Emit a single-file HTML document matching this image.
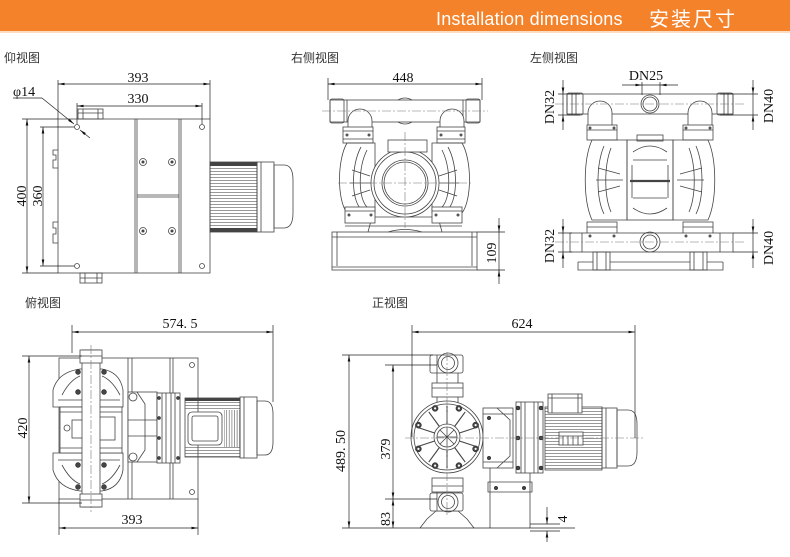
<!DOCTYPE html>
<html><head><meta charset="utf-8"><style>
html,body{margin:0;padding:0;background:#fff;width:790px;height:557px;overflow:hidden}
svg{display:block}
.l{fill:none;stroke:#444;stroke-width:.8}
.w{fill:#fff;stroke:#444;stroke-width:.8}
.t{stroke:#222;stroke-width:.7;fill:none}
.d{font-family:"Liberation Serif",serif;font-size:14px;fill:#111}
.lab{font-family:"Liberation Sans","Noto Sans CJK SC",sans-serif;font-size:12px;fill:#333}
.c{stroke:#777;stroke-width:.6;stroke-dasharray:9 2 2 2;fill:none}
.b{fill:#444;stroke:#222;stroke-width:.5}
</style></head><body>
<svg width="790" height="557" viewBox="0 0 790 557" xmlns="http://www.w3.org/2000/svg">
<defs>
<marker id="ar" viewBox="0 0 10 4" refX="10" refY="2" markerWidth="7" markerHeight="2.6" orient="auto-start-reverse" markerUnits="userSpaceOnUse"><path d="M0,0L10,2L0,4z" fill="#111"/></marker>
<pattern id="hf" width="6" height="3" patternUnits="userSpaceOnUse"><line x1="0" y1="0.5" x2="6" y2="0.5" stroke="#555" stroke-width="0.6"/></pattern>
<pattern id="vf" width="2.6" height="6" patternUnits="userSpaceOnUse"><line x1="0.5" y1="0" x2="0.5" y2="6" stroke="#555" stroke-width="0.6"/></pattern>
</defs>

<!-- header -->
<rect x="0" y="0" width="790" height="31" fill="#F4822A"/>
<rect x="0" y="31" width="790" height="2" fill="#FBDCC0"/>
<text x="436" y="25" font-family="Liberation Sans, sans-serif" font-size="18" fill="#fff" letter-spacing="0.2">Installation dimensions</text>
<text x="649" y="26" font-family="Liberation Sans, 'Noto Sans CJK SC', sans-serif" font-size="20" fill="#fff" letter-spacing="2">安装尺寸</text>

<!-- labels -->
<text x="4" y="62" class="lab">仰视图</text>
<text x="291" y="62" class="lab">右侧视图</text>
<text x="530" y="62" class="lab">左侧视图</text>
<text x="25" y="307" class="lab">俯视图</text>
<text x="372" y="307" class="lab">正视图</text>

<!-- ============ VIEW 1 仰视图 ============ -->
<g class="l">
<rect x="58" y="119" width="152" height="154"/>
<path d="M135,119V273M137,119V273M179,119V273M181,119V273M137,195H179M137,197H179"/>
<rect x="78" y="109" width="25" height="10"/><path d="M83,109V119M98,109V119M78,113H103"/>
<rect x="80" y="273" width="22" height="10"/><path d="M85,273V283M97,273V283M80,278H102"/>
<circle cx="77" cy="127" r="2.5"/><circle cx="202" cy="127" r="2.5"/><circle cx="77" cy="266" r="2.5"/><circle cx="202" cy="266" r="2.5"/>
<path d="M58,150h-5v5h3v5h-3v8h5 M58,222h-5v6h3v6h-3v9h5"/>
</g>
<g>
<circle cx="143" cy="162" r="3.5" class="l"/><circle cx="143" cy="162" r="1.5" fill="#444"/>
<circle cx="172" cy="162" r="3.5" class="l"/><circle cx="172" cy="162" r="1.5" fill="#444"/>
<circle cx="143" cy="231" r="3.5" class="l"/><circle cx="143" cy="231" r="1.5" fill="#444"/>
<circle cx="172" cy="231" r="3.5" class="l"/><circle cx="172" cy="231" r="1.5" fill="#444"/>
</g>
<!-- motor v1 -->
<rect x="210" y="162" width="47" height="70" fill="url(#hf)" stroke="#444" stroke-width=".8"/>
<rect x="210" y="162" width="47" height="4" fill="#444"/>
<rect x="210" y="228" width="47" height="4" fill="#444"/>
<rect x="257" y="162" width="17" height="70" class="l"/>
<path d="M261,162V232" class="l"/>
<path d="M274,165H284Q293,165 293,180V213Q293,228 284,228H274Z" class="l"/>
<!-- dims v1 -->
<g class="t">
<path d="M58,80V119M210,80V119"/>
<line x1="58" y1="84" x2="210" y2="84" marker-start="url(#ar)" marker-end="url(#ar)"/>
<path d="M77,103V124M202,103V124"/>
<line x1="77" y1="106" x2="202" y2="106" marker-start="url(#ar)" marker-end="url(#ar)"/>
<path d="M22,119H58M22,273H58"/>
<line x1="27" y1="119" x2="27" y2="273" marker-start="url(#ar)" marker-end="url(#ar)"/>
<path d="M40,127H74M40,266H74"/>
<line x1="43" y1="127" x2="43" y2="266" marker-start="url(#ar)" marker-end="url(#ar)"/>
<path d="M13,98H42"/>
<line x1="42" y1="98" x2="74" y2="124" marker-end="url(#ar)"/>
<line x1="90" y1="138" x2="80" y2="130" marker-end="url(#ar)"/>
</g>
<text x="138" y="82" class="d" text-anchor="middle">393</text>
<text x="138" y="103" class="d" text-anchor="middle">330</text>
<text x="13" y="96" class="d">φ14</text>
<text transform="translate(26,196) rotate(-90)" class="d" text-anchor="middle">400</text>
<text transform="translate(42,196) rotate(-90)" class="d" text-anchor="middle">360</text>

<!-- ============ VIEW 2 右侧视图 ============ -->
<g class="l">
<rect x="330" y="100" width="150" height="22"/>
<rect x="330" y="99" width="14" height="24" rx="2"/><rect x="466" y="99" width="14" height="24" rx="2"/>
<path d="M347,100V122M463,100V122"/>
<path d="M398,100q7,-4 14,0M398,122q7,4 14,0"/>
<path d="M348,133V121A12,12 0 0 1 372,121V133M440,133V121A12,12 0 0 1 464,121V133" class="w"/>
<rect x="343" y="127" width="30" height="16" class="w"/><rect x="437" y="127" width="28" height="16" class="w"/>
<path d="M343,131H373M437,131H465M343,139H373M437,139H465"/>
<path d="M347,143C337,160 337,200 347,213H375V143Z M462,143C472,160 472,200 462,213H432V143Z"/>
<path d="M361,147C351,165 351,200 361,209M367,150C358,168 358,198 367,207M448,147C458,165 458,200 448,209M442,150C451,168 451,198 442,207"/>
<path d="M350,183H372M437,183H459M352,170L370,176M352,196L370,190M457,170L439,176M457,196L439,190"/>
<path d="M368,232L372,217H438L442,232"/>
<circle cx="405" cy="183" r="34" class="w"/><circle cx="405" cy="183" r="31"/><circle cx="405" cy="183" r="23"/><circle cx="405" cy="183" r="21"/>
<rect x="388" y="140" width="39" height="12" class="w"/>
<rect x="345" y="207" width="30" height="16" class="w"/><rect x="432" y="207" width="30" height="16" class="w"/>
<path d="M345,211H375M432,211H462M345,226H462"/>
<rect x="332" y="232" width="145" height="38"/>
<path d="M332,237H477M337,232V266M472,232V266M332,267H477M388,232q17,-5 34,0"/>
</g>
<g fill="#555">
<circle cx="347" cy="135" r="1.5"/><circle cx="369" cy="135" r="1.5"/><circle cx="441" cy="135" r="1.5"/><circle cx="461" cy="135" r="1.5"/>
<circle cx="349" cy="215" r="1.5"/><circle cx="371" cy="215" r="1.5"/><circle cx="436" cy="215" r="1.5"/><circle cx="458" cy="215" r="1.5"/>
</g>
<path class="c" d="M322,111H488M405,132V228M338,183H472"/>
<g class="t">
<path d="M328,78V100M482,78V100"/>
<line x1="328" y1="84" x2="482" y2="84" marker-start="url(#ar)" marker-end="url(#ar)"/>
<path d="M477,232H505M477,270H505"/>
<line x1="499" y1="218" x2="499" y2="232" marker-end="url(#ar)"/>
<line x1="499" y1="284" x2="499" y2="270" marker-end="url(#ar)"/>
<path d="M499,232V270"/>
</g>
<text x="403" y="82" class="d" text-anchor="middle">448</text>
<text transform="translate(496,253) rotate(-90)" class="d" text-anchor="middle">109</text>

<!-- ============ VIEW 3 左侧视图 ============ -->
<g class="l">
<rect x="567" y="94" width="166" height="20"/>
<rect x="567" y="93" width="16" height="22" rx="2"/><path d="M572,93V115M576,93V115"/>
<rect x="717" y="93" width="16" height="22" rx="2"/><path d="M724,93V115M728,93V115"/>
<circle cx="650" cy="104" r="9"/><circle cx="650" cy="104" r="7"/>
<path d="M588,125V113A12,12 0 0 1 612,113V125M688,125V113A12,12 0 0 1 712,113V125" class="w"/>
<rect x="587" y="125" width="30" height="15" class="w"/><rect x="683" y="125" width="30" height="15" class="w"/>
<path d="M587,130H617M683,130H713"/>
<path d="M592,140C583,160 583,200 592,220H627V140Z M708,140C717,160 717,200 708,220H673V140Z"/>
<path d="M604,146C596,165 596,198 604,214M611,148C604,166 604,196 611,212M696,146C704,165 704,198 696,214M689,148C696,166 696,196 689,212"/>
<path d="M596,180H623M677,180H704M598,168L620,174M598,192L620,186M702,168L680,174M702,192L680,186"/>
<rect x="627" y="140" width="46" height="80"/>
<rect x="637" y="135" width="26" height="6"/>
<path d="M633,152Q650,140 667,152M633,208Q650,220 667,208M633,160H667M633,198H667"/>
<path d="M630,181H670" stroke-width="2.2"/>
<path d="M632,165V198M668,165V198"/>
<rect x="587" y="222" width="30" height="16" class="w"/><rect x="683" y="222" width="30" height="16" class="w"/>
<path d="M587,227H617M683,227H713"/>
<rect x="570" y="233" width="163" height="19" class="w"/>
<path d="M582,233V252M720,233V252"/>
<circle cx="650" cy="242" r="10"/><circle cx="650" cy="242" r="7"/>
<rect x="593" y="252" width="17" height="18"/><rect x="690" y="252" width="17" height="18"/>
<path d="M597,252V270M606,252V270M694,252V270M703,252V270"/>
<path d="M578,262V270H723V262M578,262H593M610,262H690M707,262H723"/>
</g>
<g fill="#555">
<circle cx="590" cy="128" r="1.5"/><circle cx="614" cy="128" r="1.5"/><circle cx="686" cy="128" r="1.5"/><circle cx="710" cy="128" r="1.5"/>
<circle cx="590" cy="236" r="1.5"/><circle cx="614" cy="236" r="1.5"/><circle cx="686" cy="236" r="1.5"/><circle cx="710" cy="236" r="1.5"/>
</g>
<path class="c" d="M555,104H745M555,242H745"/>
<g class="t">
<line x1="622" y1="85" x2="642" y2="85" marker-end="url(#ar)"/>
<line x1="678" y1="85" x2="660" y2="85" marker-end="url(#ar)"/>
<path d="M642,85H660M642,82V95M660,82V95"/>
<path d="M558,94H580M558,115H580"/>
<line x1="563" y1="80" x2="563" y2="94" marker-end="url(#ar)"/>
<line x1="563" y1="130" x2="563" y2="115" marker-end="url(#ar)"/>
<path d="M563,94V115"/>
<path d="M720,94H758M720,115H758"/>
<line x1="753" y1="80" x2="753" y2="94" marker-end="url(#ar)"/>
<line x1="753" y1="130" x2="753" y2="115" marker-end="url(#ar)"/>
<path d="M753,94V115"/>
<path d="M558,233H572M558,252H572"/>
<line x1="563" y1="219" x2="563" y2="233" marker-end="url(#ar)"/>
<line x1="563" y1="268" x2="563" y2="252" marker-end="url(#ar)"/>
<path d="M563,233V252"/>
<path d="M733,233H758M733,252H758"/>
<line x1="753" y1="219" x2="753" y2="233" marker-end="url(#ar)"/>
<line x1="753" y1="268" x2="753" y2="252" marker-end="url(#ar)"/>
<path d="M753,233V252"/>
</g>
<text x="646" y="80" class="d" text-anchor="middle">DN25</text>
<text transform="translate(554,107) rotate(-90)" class="d" text-anchor="middle">DN32</text>
<text transform="translate(773,106) rotate(-90)" class="d" text-anchor="middle">DN40</text>
<text transform="translate(554,246) rotate(-90)" class="d" text-anchor="middle">DN32</text>
<text transform="translate(773,248) rotate(-90)" class="d" text-anchor="middle">DN40</text>

<!-- ============ VIEW 4 俯视图 ============ -->
<g class="l">
<rect x="59" y="358" width="139" height="141"/>
<path d="M128,358V499M132,358V499M170,358V499M173,358V499"/>
<circle cx="192" cy="365" r="2.5"/><circle cx="192" cy="492" r="2.5"/>
<path d="M53,407V390Q58,372 80,369H102Q120,372 123,390V407Z" class="w"/>
<path d="M53,453V470Q58,488 80,491H102Q120,488 123,470V453Z" class="w"/>
<path d="M58,400H120M58,460H120M62,395Q70,380 80,376M120,395Q112,380 102,376M62,465Q70,480 80,484M120,465Q112,480 102,484"/>
<rect x="60" y="407" width="62" height="46" class="w"/>
<path d="M60,412H122M60,448H122"/>
<circle cx="67" cy="428" r="3"/>
<rect x="72" y="420" width="18" height="18"/><path d="M90,420L95,429L90,438"/>
<rect x="98" y="417" width="17" height="23"/>
<rect x="82" y="350" width="18" height="157" class="w"/>
<rect x="80" y="350" width="22" height="13" class="w"/><rect x="80" y="494" width="22" height="13" class="w"/>
<path d="M80,356H102M80,500H102"/>
<rect x="128" y="392" width="29" height="70" class="w"/>
<path d="M137,392L145,404V450L137,462M128,420H157M128,436H157"/>
<circle cx="133" cy="397" r="4"/><circle cx="133" cy="457" r="4"/>
<rect x="157" y="393" width="23" height="70" class="w"/>
<path d="M162,393V463M166,393V463M171,393V463M175,393V463"/>
</g>
<g class="b">
<circle cx="78" cy="372" r="2.5"/><circle cx="104" cy="372" r="2.5"/><circle cx="78" cy="392" r="2.5"/><circle cx="104" cy="392" r="2.5"/>
<circle cx="78" cy="465" r="2.5"/><circle cx="104" cy="465" r="2.5"/><circle cx="78" cy="487" r="2.5"/><circle cx="104" cy="487" r="2.5"/>
<circle cx="159" cy="398" r="1.6"/><circle cx="178" cy="398" r="1.6"/><circle cx="159" cy="458" r="1.6"/><circle cx="178" cy="458" r="1.6"/>
<circle cx="159" cy="418" r="1.6"/><circle cx="159" cy="438" r="1.6"/>
</g>
<path class="c" d="M91,345V512"/>
<!-- motor v4 -->
<rect x="185" y="398" width="55" height="59" class="l"/>
<rect x="185" y="398" width="55" height="12" fill="url(#hf)"/>
<rect x="185" y="447" width="55" height="10" fill="url(#hf)"/>
<rect x="224" y="410" width="16" height="37" fill="url(#vf)"/>
<rect x="185" y="398" width="55" height="3" fill="#444"/>
<rect x="188" y="412" width="34" height="33" rx="4" class="w"/>
<rect x="192" y="416" width="26" height="25" rx="2" class="l"/>
<rect x="240" y="397" width="17" height="61" class="l"/>
<path d="M244,397V458" class="l"/>
<path d="M257,401H265Q273,401 273,414V442Q273,455 265,455H257Z" class="l"/>
<g class="t">
<path d="M72,325V353M273,325V402"/>
<line x1="72" y1="332" x2="273" y2="332" marker-start="url(#ar)" marker-end="url(#ar)"/>
<path d="M22,356H82M22,503H82"/>
<line x1="29" y1="356" x2="29" y2="503" marker-start="url(#ar)" marker-end="url(#ar)"/>
<path d="M59,499V535M198,499V535"/>
<line x1="59" y1="528" x2="198" y2="528" marker-start="url(#ar)" marker-end="url(#ar)"/>
</g>
<text x="180" y="328" class="d" text-anchor="middle">574. 5</text>
<text transform="translate(27,428) rotate(-90)" class="d" text-anchor="middle">420</text>
<text x="132" y="524" class="d" text-anchor="middle">393</text>

<!-- ============ VIEW 5 正视图 ============ -->
<g class="l">
<rect x="430" y="355" width="33" height="18" rx="2" class="w"/>
<path d="M437,355V373"/>
<circle cx="448" cy="363" r="10"/><circle cx="448" cy="363" r="6.5"/>
<path d="M437,373V383M458,373V383"/>
<rect x="432" y="383" width="31" height="14" class="w"/>
<path d="M432,388H463"/>
<path d="M437,397V404M458,397V404"/>
<path d="M420,528L427,519L436,511H458L467,519L474,528"/>
<path d="M437,492V511M458,492V511"/>
<rect x="432" y="478" width="31" height="14" class="w"/>
<path d="M432,486H463"/>
<rect x="430" y="493" width="33" height="18" rx="2" class="w"/>
<path d="M437,493V511"/>
<circle cx="448" cy="502" r="10"/><circle cx="448" cy="502" r="6.5"/>
<circle cx="447" cy="437" r="36" class="w"/><circle cx="447" cy="437" r="33"/>
<path d="M459.4,441L476.5,446.6M454.6,447.5L465.2,462.1M447,450V468M439.4,447.5L428.8,462.1M434.6,441L417.5,446.6M434.6,433L417.5,427.4M439.4,426.5L428.8,411.9M447,424V406M454.6,426.5L465.2,411.9M459.4,433L476.5,427.4" stroke-width="1.1"/>
<circle cx="447" cy="437" r="13" class="w"/><circle cx="447" cy="437" r="10"/>
<path d="M437,437H457M447,427V447M440,430L454,444M454,430L440,444"/>
<rect x="483" y="408" width="30" height="60" class="w"/>
<path d="M483,414H513M483,462H513M497,408L510,420V456L497,468"/>
<path d="M490,468V528M530,468V528M488,482H532V492H488Z"/>
<rect x="516" y="402" width="27" height="71" class="w"/>
<path d="M521,402V473M525,402V473M534,402V473M538,402V473"/>
</g>
<g class="b">
<circle cx="475.6" cy="448.9" r="3"/><circle cx="458.9" cy="465.6" r="3"/><circle cx="435.1" cy="465.6" r="3"/><circle cx="418.4" cy="448.9" r="3"/>
<circle cx="418.4" cy="425.1" r="3"/><circle cx="435.1" cy="408.4" r="3"/><circle cx="458.9" cy="408.4" r="3"/><circle cx="475.6" cy="425.1" r="3"/>
<circle cx="489" cy="418" r="1.8"/><circle cx="489" cy="458" r="1.8"/>
<circle cx="518" cy="408" r="2"/><circle cx="518" cy="438" r="2"/><circle cx="518" cy="468" r="2"/>
<circle cx="541" cy="408" r="2"/><circle cx="541" cy="438" r="2"/><circle cx="541" cy="468" r="2"/>
<circle cx="496" cy="488" r="1.8"/><circle cx="524" cy="488" r="1.8"/>
</g>
<g fill="#fff">
<circle cx="475.6" cy="448.9" r="1.1"/><circle cx="458.9" cy="465.6" r="1.1"/><circle cx="435.1" cy="465.6" r="1.1"/><circle cx="418.4" cy="448.9" r="1.1"/>
<circle cx="418.4" cy="425.1" r="1.1"/><circle cx="435.1" cy="408.4" r="1.1"/><circle cx="458.9" cy="408.4" r="1.1"/><circle cx="475.6" cy="425.1" r="1.1"/>
</g>
<!-- motor v5 -->
<rect x="545" y="407" width="57" height="63" fill="url(#hf)" stroke="#444" stroke-width=".8"/>
<rect x="548" y="394" width="34" height="19" class="w"/>
<path d="M552,394V413M578,394V413M548,398H582" class="l"/>
<rect x="559" y="432" width="24" height="13" class="w"/>
<path d="M563,436V445M568,436V445M573,436V445M578,436V445M559,436H583" class="l"/>
<rect x="602" y="408" width="15" height="60" class="l"/>
<path d="M606,408V468" class="l"/>
<path d="M617,410H628Q637,410 637,424V452Q637,466 628,466H617Z" class="l"/>
<path class="c" d="M405,438H645M447,352V515"/>
<g class="t">
<path d="M412,325V437M635,325V438"/>
<line x1="412" y1="332" x2="635" y2="332" marker-start="url(#ar)" marker-end="url(#ar)"/>
<path d="M342,355H433M385,365H437M385,499H437M342,528H575"/>
<line x1="349" y1="355" x2="349" y2="528" marker-start="url(#ar)" marker-end="url(#ar)"/>
<line x1="393" y1="365" x2="393" y2="499" marker-start="url(#ar)" marker-end="url(#ar)"/>
<line x1="393" y1="499" x2="393" y2="528" marker-start="url(#ar)" marker-end="url(#ar)"/>
<path d="M530,524H560M530,531H560"/>
<line x1="547" y1="507" x2="547" y2="524" marker-end="url(#ar)"/>
<line x1="547" y1="542" x2="547" y2="531" marker-end="url(#ar)"/>
</g>
<text x="522" y="328" class="d" text-anchor="middle">624</text>
<text transform="translate(345,451) rotate(-90)" class="d" text-anchor="middle">489. 50</text>
<text transform="translate(390,449) rotate(-90)" class="d" text-anchor="middle">379</text>
<text transform="translate(390,519) rotate(-90)" class="d" text-anchor="middle">83</text>
<text transform="translate(567,519) rotate(-90)" class="d" text-anchor="middle">4</text>
</svg>
</body></html>
